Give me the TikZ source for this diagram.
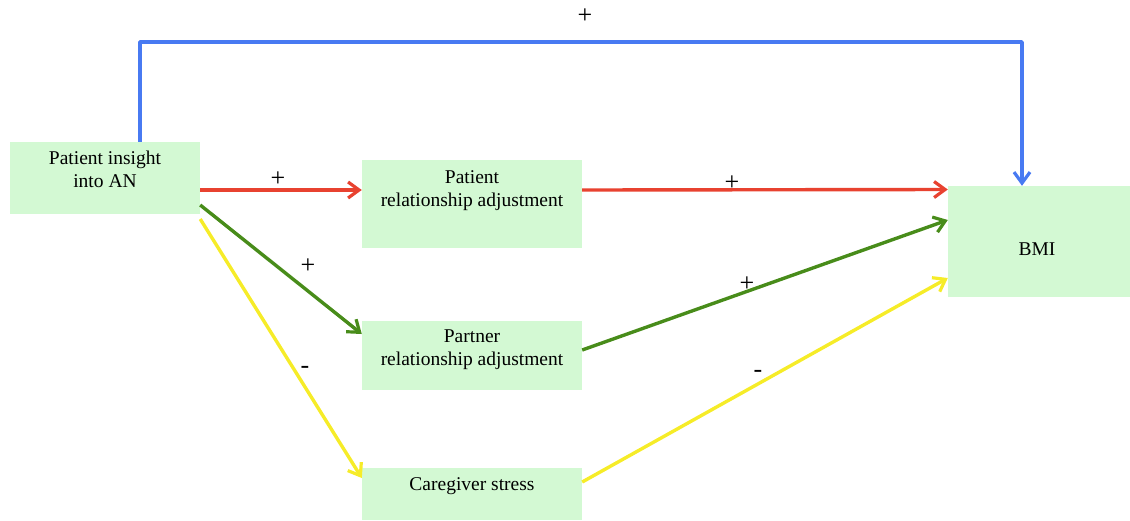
\documentclass[tikz,border=0pt]{standalone}
\usepackage{fontspec}
\setmainfont{Liberation Serif}
\usetikzlibrary{arrows.meta}
\definecolor{boxfill}{RGB}{211,249,211}
\definecolor{cred}{RGB}{232,66,48}
\definecolor{cgreen}{RGB}{72,140,26}
\definecolor{cyellow}{RGB}{246,236,40}
\definecolor{cblue}{RGB}{72,122,242}
\tikzset{
  box/.style={draw=none, fill=boxfill, inner sep=0pt, anchor=center},
  txt/.style={inner sep=0pt, align=center, font=\fontsize{19.5}{23}\selectfont},
  sign/.style={inner sep=0pt, font=\fontsize{26}{28}\selectfont},
  conn/.style={line width=3.4pt, line join=round, -{Straight Barb[length=11pt,width=16pt,line width=3.2pt]}},
}
\begin{document}
\begin{tikzpicture}[x=1pt,y=-1pt]
\useasboundingbox (0,0) rectangle (1130,520);
% boxes
\node[box, minimum width=190pt, minimum height=72pt] (ins) at (105,178) {};
\node[box, minimum width=220pt, minimum height=88pt] (pra) at (472,204) {};
\node[box, minimum width=220pt, minimum height=69pt] (par) at (472,355.5) {};
\node[box, minimum width=220pt, minimum height=52pt] (cs) at (472,494) {};
\node[box, minimum width=182pt, minimum height=111pt] (bmi) at (1039,241.5) {};
% texts
\node[txt] (tins) at (105,169) {Patient insight\\into AN};
\node[txt] (tpra) at (472,190.5) {Patient\\relationship adjustment};
\node[txt] (tpar) at (472,350) {Partner\\relationship adjustment};
\node[txt] (tcs) at (472,486) {Caregiver stress};
\node[txt] (tbmi) at (1037,249) {BMI};
% connectors
\coordinate (bl1) at (140,42);
\coordinate (bl2) at (1022,42);
\draw[conn, cblue]
  ([xshift=35pt]ins.north) -- (bl1) -- (bl2) -- ([xshift=-17pt]bmi.north);
\draw[conn, cred] ([yshift=-12pt]ins.east) -- ([yshift=14pt]pra.west);
\draw[conn, cgreen] ([yshift=-27pt]ins.east) -- ([yshift=21.5pt]par.west);
\draw[conn, cyellow] ([yshift=-41pt]ins.east) -- ([yshift=16pt]cs.west);
\draw[conn, cred] ([yshift=14pt]pra.east) -- ([yshift=52pt]bmi.west);
\draw[conn, cgreen] ([yshift=5.5pt]par.east) -- ([yshift=21.5pt]bmi.west);
\draw[conn, cyellow] ([yshift=12pt]cs.east) -- ([yshift=-36.5pt]bmi.west);
% signs
\node[sign] (s1) at (585,16) {+};
\node[sign] (s2) at (278,179) {+};
\node[sign] (s3) at (308,266) {+};
\node[sign] (s4) at (305,370) {-};
\node[sign] (s5) at (732,183) {+};
\node[sign] (s6) at (747,284) {+};
\node[sign] (s7) at (758,374) {-};
\end{tikzpicture}
\end{document}
